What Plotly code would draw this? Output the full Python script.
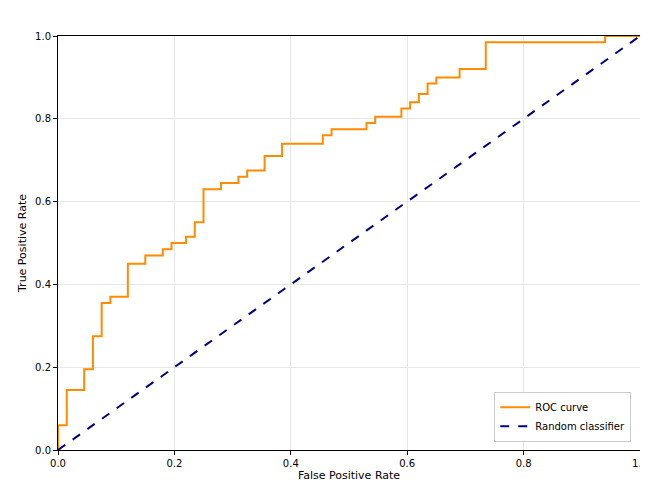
import plotly.graph_objects as go

# ROC step points (fpr, tpr), drawn with horizontal-then-vertical steps
fpr = [0, 0, 0.015, 0.045, 0.06, 0.075, 0.09, 0.12, 0.15, 0.18, 0.195, 0.22, 0.235,
       0.25, 0.28, 0.31, 0.325, 0.355, 0.385, 0.455, 0.47, 0.53, 0.545, 0.59, 0.605,
       0.62, 0.635, 0.65, 0.69, 0.735, 0.94, 1.0]
tpr = [0, 0.06, 0.145, 0.195, 0.275, 0.355, 0.37, 0.45, 0.47, 0.485, 0.5, 0.515, 0.55,
       0.63, 0.645, 0.66, 0.675, 0.71, 0.74, 0.76, 0.775, 0.79, 0.805, 0.825, 0.84,
       0.86, 0.885, 0.9, 0.92, 0.985, 1.0, 1.0]
diag = [0, 1]
ticks = [0, 0.2, 0.4, 0.6, 0.8, 1.0]

fig = go.Figure()
fig.add_trace(go.Scatter(x=fpr, y=tpr, mode="lines", line_shape="hv",
                         line=dict(color="darkorange", width=2), name="ROC curve"))
fig.add_trace(go.Scatter(x=diag, y=diag, mode="lines",
                         line=dict(color="navy", width=2, dash="dash"), name="Random classifier"))

ax = dict(range=[0, 1], tickvals=ticks, ticktext=[f"{t:.1f}" for t in ticks],
          showgrid=True, gridcolor="#e6e6e6", zeroline=False, showline=True,
          linecolor="black", linewidth=1, mirror=True, ticks="outside",
          ticklen=4, tickcolor="black", title_font=dict(size=11), automargin=False)
# page body has an 8px default margin, so the figure is sized to fit inside it
fig.update_layout(
    width=640, height=478, plot_bgcolor="white", paper_bgcolor="white",
    font=dict(family="DejaVu Sans", size=10, color="black"),
    margin=dict(l=50, r=8, t=28, b=36),
    xaxis=dict(ax, title=dict(text="False Positive Rate", standoff=2)),
    yaxis=dict(ax, title=dict(text="True Positive Rate", standoff=6)),
    legend=dict(x=0.985, y=0.02, xanchor="right", yanchor="bottom",
                bordercolor="#cccccc", borderwidth=1, bgcolor="white", font=dict(size=10)),
)
fig.write_html("out.html")
